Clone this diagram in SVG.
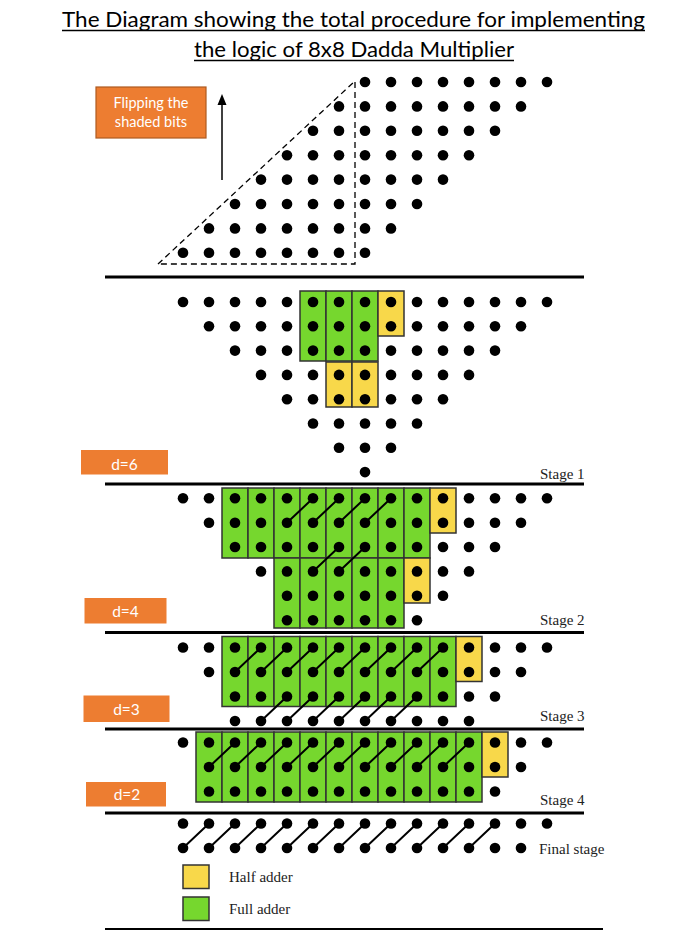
<svg xmlns="http://www.w3.org/2000/svg" width="689" height="937" viewBox="0 0 689 937">
<style>
.t{font-family:Lato,"Open Sans","Liberation Sans",sans-serif}
.title{font-size:22px;fill:#000;text-anchor:middle}
.s{font-family:"Liberation Serif","Times New Roman",serif;font-size:15px;fill:#222}
.dl{font-family:Lato,"Open Sans","Liberation Sans",sans-serif;font-size:15.5px;fill:#fff;text-anchor:middle}
.fl{font-family:Lato,"Open Sans","Liberation Sans",sans-serif;font-size:14.5px;fill:#fff;text-anchor:middle}
.rule{stroke:#000;stroke-width:3}
.fa{fill:#76D72E;stroke:#333;stroke-width:1.5}
.ha{fill:#F8D84A;stroke:#333;stroke-width:1.5}
.ob{fill:#ED7D31}
.dg{stroke:#000;stroke-width:2;fill:none}
</style>
<defs>
<rect id="g70" class="fa" width="26" height="70"/>
<rect id="y45" class="ha" width="26" height="45"/>
<g id="R0_14"><circle cx="183" r="5.3"/><circle cx="209" r="5.3"/><circle cx="235" r="5.3"/><circle cx="261" r="5.3"/><circle cx="287" r="5.3"/><circle cx="313" r="5.3"/><circle cx="339" r="5.3"/><circle cx="365" r="5.3"/><circle cx="391" r="5.3"/><circle cx="417" r="5.3"/><circle cx="443" r="5.3"/><circle cx="469" r="5.3"/><circle cx="495" r="5.3"/><circle cx="521" r="5.3"/><circle cx="547" r="5.3"/></g>
<g id="R0_13"><circle cx="183" r="5.3"/><circle cx="209" r="5.3"/><circle cx="235" r="5.3"/><circle cx="261" r="5.3"/><circle cx="287" r="5.3"/><circle cx="313" r="5.3"/><circle cx="339" r="5.3"/><circle cx="365" r="5.3"/><circle cx="391" r="5.3"/><circle cx="417" r="5.3"/><circle cx="443" r="5.3"/><circle cx="469" r="5.3"/><circle cx="495" r="5.3"/><circle cx="521" r="5.3"/></g>
<g id="R1_13"><circle cx="209" r="5.3"/><circle cx="235" r="5.3"/><circle cx="261" r="5.3"/><circle cx="287" r="5.3"/><circle cx="313" r="5.3"/><circle cx="339" r="5.3"/><circle cx="365" r="5.3"/><circle cx="391" r="5.3"/><circle cx="417" r="5.3"/><circle cx="443" r="5.3"/><circle cx="469" r="5.3"/><circle cx="495" r="5.3"/><circle cx="521" r="5.3"/></g>
<g id="R1_12"><circle cx="209" r="5.3"/><circle cx="235" r="5.3"/><circle cx="261" r="5.3"/><circle cx="287" r="5.3"/><circle cx="313" r="5.3"/><circle cx="339" r="5.3"/><circle cx="365" r="5.3"/><circle cx="391" r="5.3"/><circle cx="417" r="5.3"/><circle cx="443" r="5.3"/><circle cx="469" r="5.3"/><circle cx="495" r="5.3"/></g>
<g id="R2_12"><circle cx="235" r="5.3"/><circle cx="261" r="5.3"/><circle cx="287" r="5.3"/><circle cx="313" r="5.3"/><circle cx="339" r="5.3"/><circle cx="365" r="5.3"/><circle cx="391" r="5.3"/><circle cx="417" r="5.3"/><circle cx="443" r="5.3"/><circle cx="469" r="5.3"/><circle cx="495" r="5.3"/></g>
<g id="R2_11"><circle cx="235" r="5.3"/><circle cx="261" r="5.3"/><circle cx="287" r="5.3"/><circle cx="313" r="5.3"/><circle cx="339" r="5.3"/><circle cx="365" r="5.3"/><circle cx="391" r="5.3"/><circle cx="417" r="5.3"/><circle cx="443" r="5.3"/><circle cx="469" r="5.3"/></g>
<g id="R3_11"><circle cx="261" r="5.3"/><circle cx="287" r="5.3"/><circle cx="313" r="5.3"/><circle cx="339" r="5.3"/><circle cx="365" r="5.3"/><circle cx="391" r="5.3"/><circle cx="417" r="5.3"/><circle cx="443" r="5.3"/><circle cx="469" r="5.3"/></g>
<g id="R4_10"><circle cx="287" r="5.3"/><circle cx="313" r="5.3"/><circle cx="339" r="5.3"/><circle cx="365" r="5.3"/><circle cx="391" r="5.3"/><circle cx="417" r="5.3"/><circle cx="443" r="5.3"/></g>
<g id="R4_9"><circle cx="287" r="5.3"/><circle cx="313" r="5.3"/><circle cx="339" r="5.3"/><circle cx="365" r="5.3"/><circle cx="391" r="5.3"/><circle cx="417" r="5.3"/></g>
<g id="R5_9"><circle cx="313" r="5.3"/><circle cx="339" r="5.3"/><circle cx="365" r="5.3"/><circle cx="391" r="5.3"/><circle cx="417" r="5.3"/></g>
<g id="R6_8"><circle cx="339" r="5.3"/><circle cx="365" r="5.3"/><circle cx="391" r="5.3"/></g>
<g id="R0_7"><circle cx="183" r="5.3"/><circle cx="209" r="5.3"/><circle cx="235" r="5.3"/><circle cx="261" r="5.3"/><circle cx="287" r="5.3"/><circle cx="313" r="5.3"/><circle cx="339" r="5.3"/><circle cx="365" r="5.3"/></g>
</defs>
<rect width="689" height="937" fill="#fff"/>

<g id="title">
<text class="t title" x="353.5" y="26.5" textLength="583" lengthAdjust="spacingAndGlyphs">The Diagram showing the total procedure for implementing</text>
<line x1="62" y1="30.5" x2="645" y2="30.5" stroke="#000" stroke-width="1.3"/>
<text class="t title" x="354" y="56.5" textLength="320" lengthAdjust="spacingAndGlyphs">the logic of 8x8 Dadda Multiplier</text>
<line x1="194" y1="60.5" x2="514" y2="60.5" stroke="#000" stroke-width="1.3"/>
</g>

<g id="rules">
<line class="rule" x1="105" y1="277" x2="584" y2="277"/>
<line class="rule" x1="105" y1="484" x2="584" y2="484"/>
<line class="rule" x1="105" y1="632.5" x2="584" y2="632.5"/>
<line class="rule" x1="105" y1="729" x2="584" y2="729"/>
<line class="rule" x1="105" y1="813" x2="584" y2="813"/>
<line x1="105" y1="929" x2="603" y2="929" stroke="#000" stroke-width="2"/>
</g>

<g id="flip-note">
<rect x="96" y="87" width="110" height="51" fill="#ED7D31" stroke="#AE5A21" stroke-width="1.2"/>
<text class="fl" x="151" y="107.5">Flipping the</text>
<text class="fl" x="151" y="126.5">shaded bits</text>
<line x1="222" y1="180" x2="222" y2="103" stroke="#000" stroke-width="1.5"/>
<polygon points="222,94 217.5,105 226.5,105" fill="#000"/>
<polygon points="158,264 355,81 355,264" fill="none" stroke="#000" stroke-width="1.3" stroke-dasharray="6 4"/>
</g>

<g id="pp-matrix">
<use href="#R0_7" x="182" y="82"/>
<use href="#R0_7" x="156" y="106.4"/>
<use href="#R0_7" x="130" y="130.8"/>
<use href="#R0_7" x="104" y="155.2"/>
<use href="#R0_7" x="78" y="179.6"/>
<use href="#R0_7" x="52" y="204"/>
<use href="#R0_7" x="26" y="228.4"/>
<use href="#R0_7" x="0" y="252.8"/>
</g>

<g id="stage1">
<use href="#g70" x="300" y="291"/><use href="#g70" x="326" y="291"/><use href="#g70" x="352" y="291"/>
<use href="#y45" x="378" y="291"/>
<use href="#y45" x="326" y="362"/><use href="#y45" x="352" y="362"/>
<use href="#R0_14" y="302"/>
<use href="#R1_13" y="326.3"/>
<use href="#R2_12" y="350.6"/>
<use href="#R3_11" y="374.9"/>
<use href="#R4_10" y="399.2"/>
<use href="#R5_9" y="423.5"/>
<use href="#R6_8" y="447.8"/>
<circle cx="365" cy="472.1" r="5.3"/>
<rect class="ob" x="81" y="450" width="87" height="24.5"/>
<text class="dl" x="124.5" y="470">d=6</text>
<text class="s" x="540" y="478.5">Stage 1</text>
</g>

<g id="stage2">
<use href="#g70" x="222" y="488"/><use href="#g70" x="248" y="488"/><use href="#g70" x="274" y="488"/><use href="#g70" x="300" y="488"/><use href="#g70" x="326" y="488"/><use href="#g70" x="352" y="488"/><use href="#g70" x="378" y="488"/><use href="#g70" x="404" y="488"/>
<use href="#y45" x="430" y="488"/>
<use href="#g70" x="274" y="558"/><use href="#g70" x="300" y="558"/><use href="#g70" x="326" y="558"/><use href="#g70" x="352" y="558"/><use href="#g70" x="378" y="558"/>
<use href="#y45" x="404" y="558"/>
<path class="dg" d="M287 522.7l26 -24.4M313 522.7l26 -24.4M339 522.7l26 -24.4M365 522.7l26 -24.4M313 571.4l26 -24.4M339 571.4l26 -24.4"/>
<use href="#R0_14" y="498.3"/>
<use href="#R1_13" y="522.7"/>
<use href="#R2_12" y="547"/>
<use href="#R3_11" y="571.4"/>
<use href="#R4_10" y="595.8"/>
<use href="#R4_9" y="620.2"/>
<rect class="ob" x="84.5" y="598" width="82" height="25.5"/>
<text class="dl" x="125.5" y="616.5">d=4</text>
<text class="s" x="540" y="624.5">Stage 2</text>
</g>

<g id="stage3">
<use href="#g70" x="222" y="636.5"/><use href="#g70" x="248" y="636.5"/><use href="#g70" x="274" y="636.5"/><use href="#g70" x="300" y="636.5"/><use href="#g70" x="326" y="636.5"/><use href="#g70" x="352" y="636.5"/><use href="#g70" x="378" y="636.5"/><use href="#g70" x="404" y="636.5"/><use href="#g70" x="430" y="636.5"/>
<use href="#y45" x="456" y="636.5"/>
<path class="dg" d="M235 672l26 -24.5M261 672l26 -24.5M287 672l26 -24.5M313 672l26 -24.5M339 672l26 -24.5M365 672l26 -24.5M391 672l26 -24.5M417 672l26 -24.5M261 721l26 -24.5M287 721l26 -24.5M313 721l26 -24.5M339 721l26 -24.5M365 721l26 -24.5M391 721l26 -24.5"/>
<use href="#R0_14" y="647.5"/>
<use href="#R1_13" y="672"/>
<use href="#R2_12" y="696.5"/>
<use href="#R2_11" y="721"/>
<rect class="ob" x="83.5" y="695.5" width="86" height="26.5"/>
<text class="dl" x="126.5" y="714.5">d=3</text>
<text class="s" x="540" y="720.5">Stage 3</text>
</g>

<g id="stage4">
<use href="#g70" x="196" y="732"/><use href="#g70" x="222" y="732"/><use href="#g70" x="248" y="732"/><use href="#g70" x="274" y="732"/><use href="#g70" x="300" y="732"/><use href="#g70" x="326" y="732"/><use href="#g70" x="352" y="732"/><use href="#g70" x="378" y="732"/><use href="#g70" x="404" y="732"/><use href="#g70" x="430" y="732"/><use href="#g70" x="456" y="732"/>
<use href="#y45" x="482" y="732"/>
<path class="dg" d="M209 767l26 -24.5M235 767l26 -24.5M261 767l26 -24.5M287 767l26 -24.5M313 767l26 -24.5M339 767l26 -24.5M365 767l26 -24.5M391 767l26 -24.5M417 767l26 -24.5M443 767l26 -24.5"/>
<use href="#R0_14" y="742.5"/>
<use href="#R1_13" y="767"/>
<use href="#R1_12" y="791.5"/>
<rect class="ob" x="86" y="782" width="80" height="24.5"/>
<text class="dl" x="127" y="800">d=2</text>
<text class="s" x="540" y="804.5">Stage 4</text>
</g>

<g id="final-stage">
<path class="dg" d="M183 848l26 -24.5M209 848l26 -24.5M235 848l26 -24.5M261 848l26 -24.5M287 848l26 -24.5M313 848l26 -24.5M339 848l26 -24.5M365 848l26 -24.5M391 848l26 -24.5M417 848l26 -24.5M443 848l26 -24.5M469 848l26 -24.5"/>
<use href="#R0_14" y="823.5"/>
<use href="#R0_13" y="848"/>
<text class="s" x="539" y="853.5">Final stage</text>
</g>

<g id="legend">
<rect class="ha" x="183" y="865" width="26" height="23.5"/>
<text class="s" x="229" y="882">Half adder</text>
<rect class="fa" x="183" y="897" width="26" height="23.5"/>
<text class="s" x="229" y="914">Full adder</text>
</g>
</svg>
